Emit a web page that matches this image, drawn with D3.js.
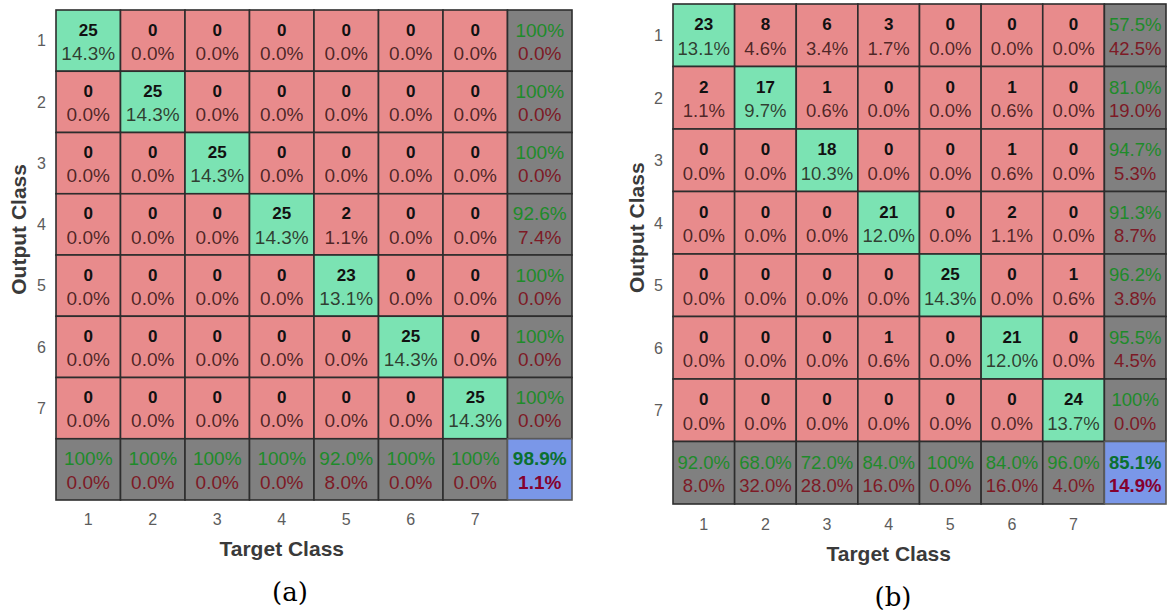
<!DOCTYPE html>
<html>
<head>
<meta charset="utf-8">
<script src="https://cdn.jsdelivr.net/npm/d3@7"></script>
<style>
  html, body { margin: 0; padding: 0; background: #fff; }
  svg { display: block; }
</style>
</head>
<body>
<svg id="chart" width="1167" height="614"></svg>
<script>
// Class labels (output rows / target columns)
const classes = ["1", "2", "3", "4", "5", "6", "7"];

// Confusion counts, rows = output class, columns = target class
const countsA = [
  [25, 0, 0, 0, 0, 0, 0],
  [0, 25, 0, 0, 0, 0, 0],
  [0, 0, 25, 0, 0, 0, 0],
  [0, 0, 0, 25, 2, 0, 0],
  [0, 0, 0, 0, 23, 0, 0],
  [0, 0, 0, 0, 0, 25, 0],
  [0, 0, 0, 0, 0, 0, 25]
];
const countsB = [
  [23, 8, 6, 3, 0, 0, 0],
  [2, 17, 1, 0, 0, 1, 0],
  [0, 0, 18, 0, 0, 1, 0],
  [0, 0, 0, 21, 0, 2, 0],
  [0, 0, 0, 0, 25, 0, 1],
  [0, 0, 0, 1, 0, 21, 0],
  [0, 0, 0, 0, 0, 0, 24]
];

const panelTitles = ["(a)", "(b)"];

const COL = {
  hit: "#7BE3B3",
  miss: "#E88B8C",
  summary: "#808080",
  total: "#7A97E8",
  good: "#1E8B2A",
  bad: "#7D1A26",
  goodStrong: "#0B7030",
  badStrong: "#85002E",
  grid: "#2d2d2d"
};

const svg = d3.select("#chart");
const FONT = "'Liberation Sans', Arial, Helvetica, sans-serif";

function fmtPct(v) {
  return v >= 99.95 ? "100%" : v.toFixed(1) + "%";
}

function drawPanel(counts, box, title) {
  const n = classes.length;
  const keys = classes.concat(["all"]);
  const total = d3.sum(counts.flat());
  const x = d3.scaleBand().domain(keys).range([box.left, box.left + box.width]);
  const y = d3.scaleBand().domain(keys).range([box.top, box.top + box.height]);
  const cw = x.bandwidth(), ch = y.bandwidth();

  // Build cell records
  const cells = [];
  counts.forEach((row, i) => {
    row.forEach((v, j) => {
      cells.push({ r: classes[i], c: classes[j], kind: i === j ? "hit" : "miss",
        top: String(v), bottom: fmtPct(100 * v / total) });
    });
    const rowSum = d3.sum(row);
    const acc = rowSum ? 100 * row[i] / rowSum : 0;
    cells.push({ r: classes[i], c: "all", kind: "summary", top: fmtPct(acc), bottom: fmtPct(100 - acc) });
  });
  classes.forEach((cls, j) => {
    const colSum = d3.sum(counts, row => row[j]);
    const acc = colSum ? 100 * counts[j][j] / colSum : 0;
    cells.push({ r: "all", c: cls, kind: "summary", top: fmtPct(acc), bottom: fmtPct(100 - acc) });
  });
  const correct = d3.sum(classes, (_, i) => counts[i][i]);
  const overall = 100 * correct / total;
  cells.push({ r: "all", c: "all", kind: "total", top: fmtPct(overall), bottom: fmtPct(100 - overall) });

  const g = svg.append("g");

  const cell = g.selectAll("g.cell").data(cells).join("g").attr("class", "cell")
    .attr("transform", d => `translate(${x(d.c)},${y(d.r)})`);

  cell.append("rect")
    .attr("width", cw).attr("height", ch)
    .attr("fill", d => COL[d.kind])
    .attr("stroke", d => d.kind === "total" ? "#5a5a5a" : COL.grid)
    .attr("stroke-width", 1.6);

  const fsBig = box.fs;
  cell.append("text")
    .attr("x", cw / 2).attr("y", ch * 0.33)
    .attr("text-anchor", "middle").attr("dominant-baseline", "central")
    .attr("font-family", FONT)
    .attr("font-size", d => (d.kind === "hit" || d.kind === "miss") ? box.fsCount : fsBig)
    .attr("font-weight", d => (d.kind === "hit" || d.kind === "miss" || d.kind === "total") ? "bold" : "normal")
    .attr("fill", d => d.kind === "summary" ? COL.good : d.kind === "total" ? COL.goodStrong : "#111")
    .text(d => d.top);

  cell.append("text")
    .attr("x", cw / 2).attr("y", ch * 0.71)
    .attr("text-anchor", "middle").attr("dominant-baseline", "central")
    .attr("font-family", FONT)
    .attr("font-size", fsBig)
    .attr("font-weight", d => d.kind === "total" ? "bold" : "normal")
    .attr("fill", d => d.kind === "summary" ? COL.bad : d.kind === "total" ? COL.badStrong : "rgba(20,0,0,0.74)")
    .text(d => d.bottom);

  // Axes: tick labels only, no domain lines or tick marks
  const xAxis = d3.axisBottom(x).tickValues(classes).tickSize(0).tickPadding(0);
  const yAxis = d3.axisLeft(y).tickValues(classes).tickSize(0).tickPadding(0);

  const gx = g.append("g").attr("transform", `translate(0,${box.top + box.height + box.xTickGap})`).call(xAxis);
  const gy = g.append("g").attr("transform", `translate(${box.left - box.yTickGap},0)`).call(yAxis);
  [gx, gy].forEach(a => {
    a.select(".domain").remove();
    a.attr("font-size", null).attr("font-family", null);
    a.selectAll("text").attr("font-family", FONT).attr("font-size", 16).attr("fill", "#5c5c5c");
  });
  gx.selectAll("text").attr("dy", "0.71em");
  gy.selectAll("text").attr("dy", "0.36em");

  g.append("text")
    .attr("x", box.left + (box.width * n / (n + 1)) / 2)
    .attr("y", box.top + box.height + box.xLabelGap)
    .attr("text-anchor", "middle").attr("dominant-baseline", "central")
    .attr("font-family", FONT).attr("font-size", 21).attr("font-weight", "bold").attr("fill", "#3a3a3a")
    .text("Target Class");

  const ly = box.top + (box.height * n / (n + 1)) / 2 + 5;
  g.append("text")
    .attr("transform", `translate(${box.yLabelX},${ly}) rotate(-90)`)
    .attr("text-anchor", "middle").attr("dominant-baseline", "central")
    .attr("font-family", FONT).attr("font-size", 21).attr("font-weight", "bold").attr("fill", "#3a3a3a")
    .text("Output Class");

  g.append("text")
    .attr("x", box.titleX).attr("y", box.titleY)
    .attr("text-anchor", "middle").attr("dominant-baseline", "central")
    .attr("font-family", "'DejaVu Serif', 'Liberation Serif', serif").attr("font-size", 26).attr("fill", "#000")
    .text(title);
}

drawPanel(countsA, { left: 56, top: 10, width: 516, height: 490, fs: 19, fsCount: 17,
  xTickGap: 14, yTickGap: 10, xLabelGap: 48, yLabelX: 18, titleX: 290, titleY: 592 }, panelTitles[0]);
drawPanel(countsB, { left: 673, top: 4, width: 493, height: 500, fs: 18.5, fsCount: 17,
  xTickGap: 15, yTickGap: 10, xLabelGap: 49, yLabelX: 636, titleX: 893, titleY: 597 }, panelTitles[1]);
</script>
</body>
</html>
